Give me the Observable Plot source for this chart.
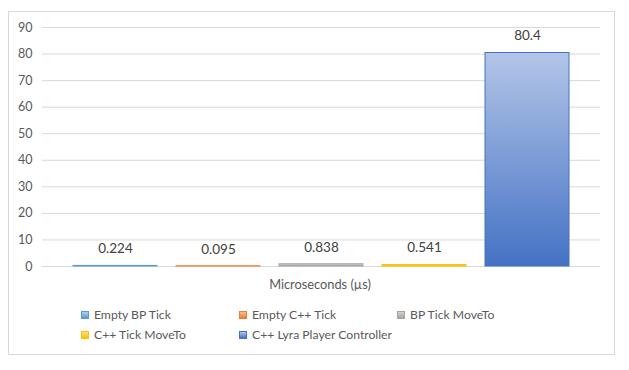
<!DOCTYPE html>
<html>
<head>
<meta charset="utf-8">
<script src="https://cdn.jsdelivr.net/npm/d3@7"></script>
<script src="https://cdn.jsdelivr.net/npm/@observablehq/plot@0.6"></script>
<style>
  html, body { margin: 0; padding: 0; background: #fff; }
  #wrap { position: relative; width: 629px; height: 370px; font-family: Lato, "Open Sans", sans-serif; }
  #frame { position: absolute; left: 8px; top: 11px; width: 607px; height: 344px; border: 1px solid #d9d9d9; box-sizing: border-box; pointer-events: none; }
  #chart { position: absolute; left: 0; top: 0; }
  #xlabel { position: absolute; left: 0; width: 640px; top: 276px; text-align: center; font-size: 12.8px; color: #595959; }
  .leg { position: absolute; font-size: 12.2px; color: #595959; white-space: nowrap; line-height: 14px; }
  .sw { display: inline-block; width: 8px; height: 8px; margin-right: 5px; vertical-align: 0px; box-sizing: border-box; border: 1px solid; }
</style>
</head>
<body>
<div id="wrap">
  <div id="chart"></div>
  <div id="xlabel"></div>
  <div id="legend"></div>
  <div id="frame"></div>
</div>
<script>
const series = ["Empty BP Tick", "Empty C++ Tick", "BP Tick MoveTo", "C++ Tick MoveTo", "C++ Lyra Player Controller"];
const values = [0.224, 0.095, 0.838, 0.541, 80.4];
const labels = ["0.224", "0.095", "0.838", "0.541", "80.4"];
const colors = ["#5b9bd5", "#ed7d31", "#a5a5a5", "#ffc000", "#4472c4"];
const lightColors = ["#b1cdea", "#f6be98", "#d2d2d2", "#ffdf80", "#b3c5e8"];
const yTicks = [0, 10, 20, 30, 40, 50, 60, 70, 80, 90];
const xTitle = "Microseconds (µs)";
const legendRows = [[0, 1, 2], [3, 4]];

const data = series.map((s, i) => ({series: s, value: values[i], label: labels[i], i}));

const barMarks = data.map(d => Plot.barY([d], {
  x: "series", y: "value",
  fill: `url(#grad${d.i})`,
  stroke: colors[d.i], strokeWidth: 1
}));

const chart = Plot.plot({
  width: 629,
  height: 370,
  marginTop: 27,
  marginBottom: 104,
  marginLeft: 42,
  marginRight: 29,
  style: {fontFamily: "Lato, 'Open Sans', sans-serif", background: "transparent"},
  x: {domain: series, padding: 0.187, insetLeft: 11, insetRight: 11, axis: null},
  y: {domain: [0, 90], ticks: yTicks, tickSize: 0, tickPadding: 10, label: null, grid: false},
  marks: [
    Plot.ruleY(yTicks, {stroke: "#d9d9d9", strokeWidth: 1}),
    Plot.axisY(yTicks, {tickSize: 0, tickPadding: 10, fontSize: 12.5, fill: "#595959", label: null}),
    ...barMarks,
    Plot.text(data, {x: "series", y: "value", text: "label", dy: -17, fontSize: 13.5, fill: "#404040"})
  ]
});

const svg = d3.select(chart);
const defs = svg.insert("defs", ":first-child");
colors.forEach((c, i) => {
  const g = defs.append("linearGradient").attr("id", `grad${i}`)
    .attr("x1", 0).attr("y1", 0).attr("x2", 0).attr("y2", 1);
  g.append("stop").attr("offset", "0%").attr("stop-color", lightColors[i]);
  g.append("stop").attr("offset", "100%").attr("stop-color", c);
});
document.getElementById("chart").appendChild(chart);

document.getElementById("xlabel").textContent = xTitle;

const legend = document.getElementById("legend");
const colX = [81, 239, 397];
legendRows.forEach((row, r) => {
  row.forEach((idx, c) => {
    const el = document.createElement("div");
    el.className = "leg";
    el.style.left = colX[c] + "px";
    el.style.top = (308 + r * 20) + "px";
    const sw = document.createElement("span");
    sw.className = "sw";
    sw.style.background = `linear-gradient(${lightColors[idx]}, ${colors[idx]})`;
    sw.style.borderColor = colors[idx];
    el.appendChild(sw);
    el.appendChild(document.createTextNode(series[idx]));
    legend.appendChild(el);
  });
});
</script>
</body>
</html>
